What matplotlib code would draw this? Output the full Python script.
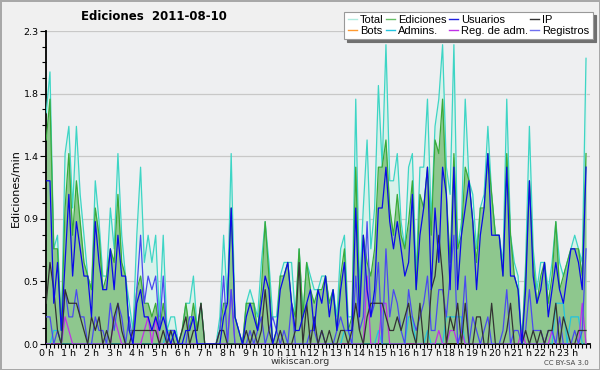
import numpy as np
import matplotlib
matplotlib.use("Agg")
import matplotlib.pyplot as plt
from matplotlib.ticker import MultipleLocator, FixedLocator, FuncFormatter

# valores por cada 10 minutos (144 puntos), ediciones/min
total = [1.7,2.0,0.7,0.8,0.1,1.4,1.6,1.0,1.6,1.1,0.8,0.5,0.4,1.2,0.9,0.5,0.5,1.0,0.7,1.4,0.8,0.5,0.3,0.1,
         0.8,1.3,0.6,0.8,0.6,0.8,0.2,0.8,0.1,0.2,0.2,0.0,0.1,0.3,0.3,0.5,0.1,0.3,0.0,0.0,0.0,0.0,0.2,0.8,
         0.3,1.4,0.2,0.1,0.0,0.3,0.4,0.3,0.2,0.6,0.9,0.6,0.2,0.2,0.5,0.6,0.6,0.6,0.2,0.7,0.2,0.6,0.5,0.4,
         0.4,0.5,0.5,0.3,0.4,0.2,0.7,0.8,0.2,0.2,1.8,0.4,1.0,1.5,0.7,1.0,1.9,1.3,2.2,1.2,1.2,1.4,0.9,0.7,
         1.3,1.4,0.5,1.3,1.3,1.8,0.9,1.6,1.8,2.2,1.3,1.1,2.2,0.7,0.9,1.8,1.2,1.1,0.7,1.0,1.1,1.6,1.1,0.8,
         0.8,0.6,1.8,0.8,0.6,0.5,0.0,0.6,1.6,0.7,0.4,0.6,0.6,0.4,0.6,0.9,0.6,0.5,0.6,0.7,0.8,0.7,0.6,2.1]
ediciones = [1.5,1.8,0.7,0.7,0.1,1.0,1.4,0.8,1.2,0.9,0.6,0.5,0.4,1.0,0.8,0.4,0.5,0.7,0.6,1.1,0.6,0.5,0.1,0.1,
             0.4,0.5,0.3,0.3,0.2,0.3,0.1,0.3,0.1,0.1,0.1,0.0,0.1,0.3,0.1,0.3,0.1,0.3,0.0,0.0,0.0,0.0,0.1,0.3,
             0.3,1.0,0.2,0.1,0.0,0.3,0.3,0.3,0.1,0.4,0.9,0.5,0.0,0.1,0.5,0.5,0.6,0.3,0.2,0.7,0.2,0.6,0.4,0.3,
             0.4,0.4,0.5,0.3,0.4,0.1,0.5,0.7,0.1,0.2,1.3,0.3,0.8,0.6,0.5,0.7,1.3,1.3,1.5,1.0,0.8,1.1,0.8,0.7,
             0.9,1.2,0.4,1.1,1.0,1.3,0.8,1.5,1.4,1.8,1.1,0.6,1.4,0.7,0.8,1.3,1.2,0.9,0.6,1.0,1.0,1.4,1.1,0.8,
             0.8,0.5,1.4,0.8,0.5,0.4,0.0,0.5,1.2,0.6,0.3,0.5,0.6,0.3,0.5,0.9,0.4,0.5,0.6,0.7,0.7,0.7,0.5,1.4]
usuarios = [1.2,1.2,0.3,0.6,0.1,0.6,1.1,0.5,0.9,0.7,0.5,0.5,0.2,0.9,0.6,0.4,0.4,0.7,0.4,0.8,0.5,0.5,0.1,0.0,
            0.3,0.4,0.2,0.2,0.1,0.2,0.1,0.2,0.1,0.0,0.1,0.0,0.0,0.1,0.1,0.2,0.0,0.0,0.0,0.0,0.0,0.0,0.0,0.2,
            0.3,1.0,0.2,0.1,0.0,0.2,0.3,0.2,0.1,0.3,0.5,0.4,0.0,0.1,0.4,0.5,0.6,0.3,0.1,0.1,0.2,0.3,0.4,0.1,
            0.4,0.3,0.5,0.2,0.4,0.1,0.4,0.6,0.1,0.1,1.0,0.2,0.8,0.4,0.2,0.4,1.0,1.0,1.3,0.9,0.7,0.9,0.7,0.5,
            0.6,1.1,0.4,0.8,1.0,1.3,0.4,1.0,0.6,1.3,1.1,0.4,1.3,0.4,0.8,1.0,1.2,0.9,0.4,0.8,1.0,1.4,0.8,0.8,
            0.8,0.5,1.3,0.5,0.5,0.4,0.0,0.4,1.2,0.5,0.3,0.4,0.6,0.2,0.4,0.6,0.4,0.3,0.5,0.7,0.7,0.6,0.4,1.3]
ip = [0.3,0.6,0.4,0.1,0.0,0.4,0.3,0.3,0.3,0.2,0.1,0.0,0.2,0.1,0.2,0.0,0.1,0.0,0.2,0.3,0.1,0.0,0.0,0.1,
      0.1,0.1,0.1,0.1,0.1,0.1,0.0,0.1,0.0,0.1,0.0,0.0,0.1,0.2,0.0,0.1,0.1,0.3,0.0,0.0,0.0,0.0,0.1,0.1,
      0.0,0.0,0.0,0.0,0.0,0.1,0.0,0.1,0.0,0.1,0.4,0.1,0.0,0.0,0.1,0.0,0.0,0.0,0.1,0.6,0.0,0.3,0.0,0.2,
      0.0,0.1,0.0,0.1,0.0,0.0,0.1,0.1,0.0,0.1,0.3,0.1,0.0,0.2,0.3,0.3,0.3,0.3,0.2,0.1,0.1,0.2,0.1,0.2,
      0.3,0.1,0.0,0.3,0.0,0.0,0.4,0.5,0.8,0.5,0.0,0.2,0.1,0.3,0.0,0.3,0.0,0.0,0.2,0.2,0.0,0.0,0.3,0.0,
      0.0,0.0,0.1,0.3,0.0,0.0,0.0,0.1,0.0,0.1,0.0,0.1,0.0,0.1,0.1,0.3,0.0,0.2,0.1,0.0,0.0,0.1,0.1,0.1]
registros = [0.2,0.2,0.0,0.1,0.0,0.4,0.2,0.2,0.4,0.2,0.2,0.0,0.0,0.2,0.1,0.1,0.0,0.3,0.1,0.3,0.2,0.0,0.2,0.0,
             0.4,0.8,0.3,0.5,0.4,0.5,0.1,0.5,0.0,0.1,0.1,0.0,0.0,0.0,0.2,0.2,0.0,0.0,0.0,0.0,0.0,0.0,0.1,0.5,
             0.0,0.4,0.0,0.0,0.0,0.0,0.1,0.0,0.1,0.2,0.0,0.1,0.2,0.1,0.0,0.1,0.0,0.3,0.0,0.0,0.0,0.0,0.1,0.1,
             0.0,0.1,0.0,0.0,0.0,0.1,0.2,0.1,0.1,0.0,0.5,0.1,0.2,0.9,0.2,0.3,0.6,0.0,0.7,0.2,0.4,0.3,0.1,0.0,
             0.4,0.2,0.1,0.2,0.3,0.5,0.1,0.1,0.4,0.4,0.2,0.5,0.8,0.0,0.1,0.5,0.0,0.2,0.1,0.0,0.1,0.2,0.0,0.0,
             0.0,0.1,0.4,0.0,0.1,0.1,0.0,0.1,0.4,0.1,0.1,0.1,0.0,0.1,0.1,0.0,0.2,0.0,0.0,0.0,0.1,0.0,0.1,0.7]
admins = [0,0,0.1,0.1,0,0,0,0,0,0,0,0,0,0,0,0,0,0,0,0,0,0,0,0,
          0,0,0,0,0,0,0,0,0.1,0.1,0,0,0,0,0,0,0,0,0,0,0,0,0,0,
          0,0,0,0,0,0,0,0,0,0,0,0,0,0,0,0,0,0,0,0,0,0,0,0,
          0,0,0,0,0,0,0,0.1,0.1,0,0,0,0,0,0,0,0.1,0,0,0,0,0,0,0,
          0.2,0.2,0,0,0,0.1,0,0,0,0,0.2,0.2,0.2,0.2,0.2,0,0,0,0,0,0,0,0,0,
          0,0,0,0,0,0,0,0,0,0,0,0,0,0,0,0.3,0.3,0.3,0,0.2,0.2,0.2,0,0]
reg_adm = [0,0,0,0,0,0.2,0.1,0,0,0,0,0,0,0,0,0,0,0,0.2,0.1,0,0,0,0,
           0,0,0.1,0.2,0,0.2,0,0,0,0,0,0,0,0,0,0,0,0,0,0,0,0,0,0,
           0,0.4,0,0,0,0,0,0,0,0,0,0,0,0,0,0,0,0,0,0,0,0,0,0,
           0,0,0,0,0,0,0,0,0,0,0,0,0,0.5,0,0,0,0.3,0.3,0,0,0,0,0,
           0,0,0,0,0,0,0,0,0.1,0,0,0.1,0.1,0,0.1,0,0,0,0,0,0,0,0,0,
           0,0,0,0,0,0,0.1,0,0,0,0,0,0,0,0.1,0,0,0,0,0,0,0,0.3,0]
bots = [0.0] * 144

hour_labels = [f"{h} h" for h in range(24)]
ymax = 2.3

x = np.arange(len(total))

fig = plt.figure(figsize=(6, 3.7), dpi=100, facecolor="#f0f0f0",
                 edgecolor="#a8a8a8", linewidth=2)
ax = fig.add_axes([0.077, 0.07, 0.906, 0.846])
ax.set_facecolor("#eeeff1")

ax.fill_between(x, total, color="#d8f1ea", lw=0, zorder=1)
ax.fill_between(x, ediciones, color="#8ec78e", lw=0, zorder=2)
ax.plot(x, total, color="#3dd5c5", lw=0.9, zorder=3)
ax.plot(x, ediciones, color="#3aaa3a", lw=0.9, zorder=3)
ax.plot(x, bots, color="#ff9a30", lw=0.9, zorder=3)
ax.plot(x, admins, color="#22c4e0", lw=0.9, zorder=4)
ax.plot(x, reg_adm, color="#c030e8", lw=0.9, zorder=4)
ax.plot(x, registros, color="#4a4af0", lw=0.9, zorder=4)
ax.plot(x, ip, color="#333333", lw=0.9, zorder=5)
ax.plot(x, usuarios, color="#0a0ae8", lw=0.9, zorder=6)

ax.set_xlim(0, 144)
ax.set_ylim(0, ymax)
yt = [ymax * k / 5 for k in range(6)]
ax.yaxis.set_major_locator(FixedLocator(yt))
ax.yaxis.set_minor_locator(MultipleLocator(ymax / 20))
ax.yaxis.set_major_formatter(FuncFormatter(lambda v, p: f"{v:.1f}"))
ax.xaxis.set_major_locator(FixedLocator(np.arange(0, 144, 6)))
ax.xaxis.set_minor_locator(MultipleLocator(1))
ax.set_xticklabels(hour_labels)
ax.tick_params(axis="both", labelsize=6.8, color="black")
ax.tick_params(axis="x", which="both", length=3, width=0.8, pad=0.5)
ax.tick_params(axis="y", which="major", length=4, width=0.8, pad=1.5)
ax.tick_params(axis="y", which="minor", length=3, width=0.8)
ax.grid(axis="y", color="#c8c8c8", lw=0.9)
ax.set_axisbelow(True)
for s in ["top", "right"]:
    ax.spines[s].set_visible(False)
ax.spines["left"].set_linewidth(1.3)
ax.spines["bottom"].set_linewidth(1.3)
ax.set_ylabel("Ediciones/min", fontsize=8, labelpad=2)

fig.text(0.257, 0.955, "Ediciones  2011-08-10", ha="center", va="center",
         fontsize=8.5, fontweight="bold")
fig.text(0.5, 0.022, "wikiscan.org", ha="center", va="center", fontsize=6.8, color="#333333")
fig.text(0.982, 0.02, "CC BY-SA 3.0", ha="right", va="center", fontsize=5, color="#444444")

# leyenda en 4 columnas (se rellena por columnas)
names = ["Total", "Bots", "Ediciones", "Admins.", "Usuarios", "Reg. de adm.", "IP", "Registros"]
colors = ["#b0ebe0", "#ff9a30", "#66c066", "#22c4e0", "#2020e0", "#c030e8", "#333333", "#7070f0"]
handles = [plt.Line2D([], [], color=c, lw=1) for c in colors]
leg = fig.legend(handles, names, ncol=4, loc="upper right",
                 bbox_to_anchor=(0.988, 0.968), frameon=True,
                 prop={"family": "Liberation Sans", "size": 8},
                 fancybox=False, shadow={"color": "#707070", "alpha": 1},
                 handlelength=0.8, handletextpad=0.3, columnspacing=0.2,
                 labelspacing=0.05, borderpad=0.3, borderaxespad=0)
leg.get_frame().set_edgecolor("#999999")
leg.get_frame().set_facecolor("white")
leg.get_frame().set_linewidth(0.8)

fig.savefig("out.png", dpi=100, facecolor=fig.get_facecolor(), edgecolor=fig.get_edgecolor())
